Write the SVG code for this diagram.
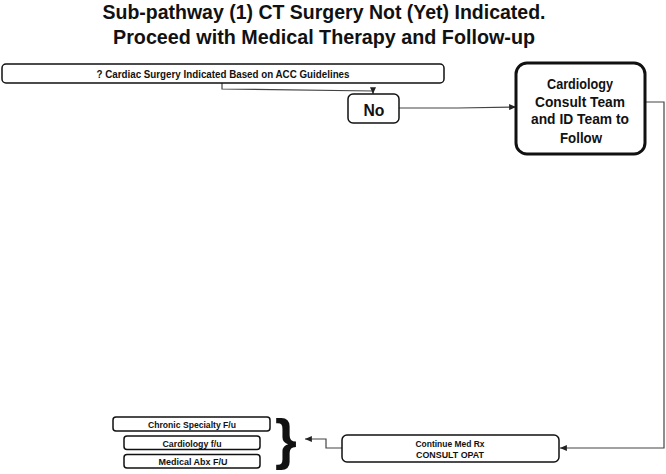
<svg xmlns="http://www.w3.org/2000/svg" width="666" height="474" viewBox="0 0 666 474">
<defs>
<marker id="arr" viewBox="0 0 8 7" refX="8" refY="3.5" markerWidth="7" markerHeight="6" markerUnits="userSpaceOnUse" orient="auto">
<path d="M0,0 L8,3.5 L0,7 z" fill="#222"/>
</marker>
<style>
text{font-family:"Liberation Sans","Open Sans",Arial,sans-serif;font-weight:bold;fill:#111;text-anchor:middle;dominant-baseline:central}
.box{fill:#fff;stroke:#111;stroke-width:1.5}
.thick{fill:#fff;stroke:#111;stroke-width:3}
.conn{fill:none;stroke:#444;stroke-width:1.2;marker-end:url(#arr)}
.title{font-size:20px;dominant-baseline:alphabetic}
.s10{font-size:10px}
.s9{font-size:9.5px}
</style>
</defs>
<g id="title">
<text class="title" x="324" y="19" textLength="443" lengthAdjust="spacingAndGlyphs">Sub-pathway (1) CT Surgery Not (Yet) Indicated.</text>
<text class="title" x="324" y="44" textLength="422" lengthAdjust="spacingAndGlyphs">Proceed with Medical Therapy and Follow-up</text>
</g>
<g id="connectors">
<path class="conn" d="M222,83 V89 L373,91 V94"/>
<path class="conn" d="M399,108 H458 L516,107"/>
<path class="conn" d="M645,102 H664 V448 H560"/>
<path class="conn" d="M342,448 H326 V439 H305"/>
</g>
<g id="n-question">
<rect class="box" x="2" y="64" width="442" height="19" rx="4"/>
<text class="s10" x="223" y="74" textLength="253" lengthAdjust="spacingAndGlyphs">? Cardiac Surgery Indicated Based on ACC Guidelines</text>
</g>
<g id="n-no">
<rect class="box" x="348" y="94" width="51" height="29" rx="5"/>
<text x="374" y="110" style="font-size:17px" textLength="21" lengthAdjust="spacingAndGlyphs">No</text>
</g>
<g id="n-cardiology">
<rect class="thick" x="516" y="63" width="129" height="91" rx="11"/>
<text x="580" y="83" style="font-size:15px" textLength="66" lengthAdjust="spacingAndGlyphs">Cardiology</text>
<text x="580" y="101" style="font-size:15px" textLength="90" lengthAdjust="spacingAndGlyphs">Consult  Team</text>
<text x="580" y="118" style="font-size:15px" textLength="98" lengthAdjust="spacingAndGlyphs">and ID Team  to</text>
<text x="581" y="137" style="font-size:15px" textLength="42" lengthAdjust="spacingAndGlyphs">Follow</text>
</g>
<g id="n-continue">
<rect class="box" x="342" y="435" width="217" height="27" rx="5"/>
<text class="s9" x="450" y="443" textLength="69" lengthAdjust="spacingAndGlyphs">Continue Med Rx</text>
<text class="s9" x="450" y="454" textLength="68" lengthAdjust="spacingAndGlyphs">CONSULT OPAT</text>
</g>
<g id="n-chronic">
<rect class="box" x="113" y="417" width="157" height="14" rx="3"/>
<text class="s9" x="192" y="424.5" textLength="88" lengthAdjust="spacingAndGlyphs">Chronic Specialty F/u</text>
</g>
<g id="n-cardfu">
<rect class="box" x="124" y="436" width="136" height="13.5" rx="3"/>
<text class="s9" x="192" y="443" textLength="59" lengthAdjust="spacingAndGlyphs">Cardiology f/u</text>
</g>
<g id="n-medabx">
<rect class="box" x="124" y="454.5" width="136" height="13.5" rx="3"/>
<text class="s9" x="193" y="461.5" textLength="69" lengthAdjust="spacingAndGlyphs">Medical Abx F/U</text>
</g>
<g id="brace">
<text x="286" y="458" style="font-size:56px;dominant-baseline:alphabetic">}</text>
</g>
</svg>
